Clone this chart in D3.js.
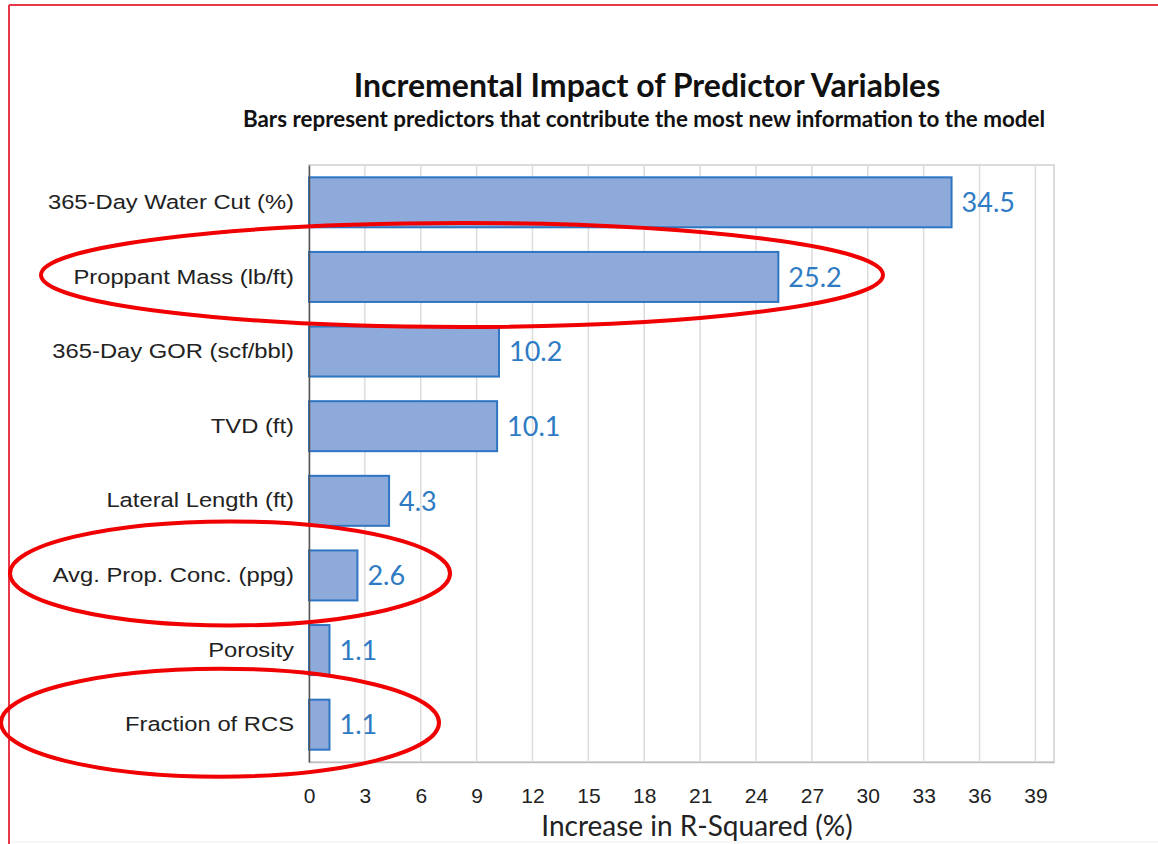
<!DOCTYPE html>
<html>
<head>
<meta charset="utf-8">
<script src="https://cdn.jsdelivr.net/npm/d3@7"></script>
<style>
  html, body { margin: 0; padding: 0; background: #fff; }
  svg { display: block; }
</style>
</head>
<body>
<div id="chart"></div>
<script>
const categories = [
  '365-Day Water Cut (%)',
  'Proppant Mass (lb/ft)',
  '365-Day GOR (scf/bbl)',
  'TVD (ft)',
  'Lateral Length (ft)',
  'Avg. Prop. Conc. (ppg)',
  'Porosity',
  'Fraction of RCS'
];
const values = [34.5, 25.2, 10.2, 10.1, 4.3, 2.6, 1.1, 1.1];
const xTicks = [0, 3, 6, 9, 12, 15, 18, 21, 24, 27, 30, 33, 36, 39];
const circled = ['Proppant Mass (lb/ft)', 'Avg. Prop. Conc. (ppg)', 'Fraction of RCS'];

const width = 1158, height = 844;
const plot = { left: 309, right: 1054, top: 165, bottom: 762 };

const svg = d3.select('#chart').append('svg')
  .attr('width', width)
  .attr('height', height);

// red frame of the slide
svg.append('line').attr('x1', 9).attr('x2', width).attr('y1', 5).attr('y2', 5)
  .attr('stroke', '#e8394a').attr('stroke-width', 2);
svg.append('line').attr('x1', 9).attr('x2', 9).attr('y1', 5).attr('y2', height)
  .attr('stroke', '#e8394a').attr('stroke-width', 2);
svg.append('line').attr('x1', 10).attr('x2', width).attr('y1', 842).attr('y2', 842)
  .attr('stroke', '#eeeeee').attr('stroke-width', 1);

const x = d3.scaleLinear().domain([0, 40]).range([plot.left, plot.right]);
const y = d3.scaleBand().domain(categories).range([plot.top, plot.bottom])
  .paddingInner(0.33).paddingOuter(0.165);

// titles
svg.append('text')
  .attr('x', 647).attr('y', 97)
  .attr('text-anchor', 'middle')
  .attr('font-family', 'Lato, sans-serif')
  .attr('font-weight', 'bold')
  .attr('font-size', 32)
  .attr('fill', '#111')
  .text('Incremental Impact of Predictor Variables');

svg.append('text')
  .attr('x', 644).attr('y', 127)
  .attr('text-anchor', 'middle')
  .attr('font-family', 'Lato, sans-serif')
  .attr('font-weight', 'bold')
  .attr('font-size', 22.4)
  .attr('fill', '#111')
  .text('Bars represent predictors that contribute the most new information to the model');

// plot border + grid
svg.append('rect')
  .attr('x', plot.left).attr('y', plot.top)
  .attr('width', plot.right - plot.left).attr('height', plot.bottom - plot.top)
  .attr('fill', 'none').attr('stroke', '#d0d0d0').attr('stroke-width', 1.5);

svg.append('g')
  .selectAll('line.grid')
  .data(xTicks.slice(1))
  .join('line')
  .attr('class', 'grid')
  .attr('x1', d => x(d)).attr('x2', d => x(d))
  .attr('y1', plot.top).attr('y2', plot.bottom)
  .attr('stroke', '#dcdcdc').attr('stroke-width', 1.5);

// x axis
const xAxis = svg.append('g')
  .attr('transform', `translate(0,${plot.bottom})`)
  .call(d3.axisBottom(x).tickValues(xTicks).tickSize(0).tickPadding(26));
xAxis.select('.domain').attr('stroke', '#bfbfbf').attr('stroke-width', 1.5);
xAxis.selectAll('text')
  .attr('font-family', '"Liberation Sans", Arial, sans-serif')
  .attr('font-size', 21)
  .attr('fill', '#222');

svg.append('text')
  .attr('x', 697).attr('y', 836)
  .attr('text-anchor', 'middle')
  .attr('font-family', 'Lato, sans-serif')
  .attr('font-size', 28)
  .attr('fill', '#222')
  .text('Increase in R-Squared (%)');

// bars
svg.append('g')
  .selectAll('rect.bar')
  .data(values)
  .join('rect')
  .attr('class', 'bar')
  .attr('x', x(0))
  .attr('y', (d, i) => y(categories[i]))
  .attr('width', d => x(d) - x(0))
  .attr('height', y.bandwidth())
  .attr('fill', '#8eaadb')
  .attr('stroke', '#2e75c2')
  .attr('stroke-width', 2);

// value labels
svg.append('g')
  .selectAll('text.value')
  .data(values)
  .join('text')
  .attr('class', 'value')
  .attr('x', d => x(d) + 10)
  .attr('y', (d, i) => y(categories[i]) + y.bandwidth() / 2)
  .attr('dy', '0.36em')
  .attr('font-family', 'Lato, sans-serif')
  .attr('font-size', 27)
  .attr('fill', '#2e7bc4')
  .text(d => d.toFixed(1));

// y axis -- labels in the slide are stretched wide, so scale them horizontally
const labelStretch = 1.16;
const yAxis = svg.append('g')
  .attr('transform', `translate(${plot.left},0)`)
  .call(d3.axisLeft(y).tickSize(0).tickPadding(15));
yAxis.select('.domain').attr('stroke', '#555').attr('stroke-width', 1.5);
yAxis.selectAll('text')
  .attr('x', -15 / labelStretch)
  .attr('transform', `scale(${labelStretch},1)`)
  .attr('font-family', '"Liberation Sans", Arial, sans-serif')
  .attr('font-size', 20.5)
  .attr('fill', '#222');

// red annotation ellipses around selected predictors
const ellipseShape = {
  'Proppant Mass (lb/ft)': { cx: 462, rx: 421, ry: 52 },
  'Avg. Prop. Conc. (ppg)': { cx: 230, rx: 220, ry: 52 },
  'Fraction of RCS': { cx: 220, rx: 219, ry: 54 }
};
svg.append('g')
  .selectAll('ellipse')
  .data(circled)
  .join('ellipse')
  .attr('cx', d => ellipseShape[d].cx)
  .attr('cy', d => y(d) + y.bandwidth() / 2 - 2)
  .attr('rx', d => ellipseShape[d].rx)
  .attr('ry', d => ellipseShape[d].ry)
  .attr('fill', 'none')
  .attr('stroke', '#f00000')
  .attr('stroke-width', 4);
</script>
</body>
</html>
